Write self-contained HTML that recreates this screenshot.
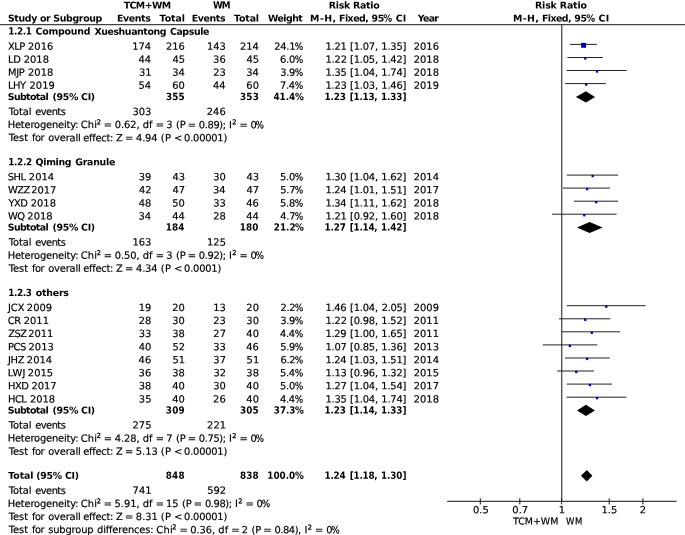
<!DOCTYPE html>
<html lang="en">
<head>
<meta charset="utf-8">
<title>Forest plot: TCM+WM versus WM, Risk Ratio</title>
<style>
html,body{margin:0;padding:0;background:#fff;}
body{width:685px;height:535px;overflow:hidden;}
svg{display:block;}
text{fill:#000;white-space:pre;}
.r{stroke:#000;stroke-width:0.18px;}
.r{font-family:"DejaVu Sans","Liberation Sans",sans-serif;font-size:9.9px;}
.b{font-family:"DejaVu Sans","Liberation Sans",sans-serif;font-weight:bold;font-size:9.4px;}
.bn{font-family:"DejaVu Sans Condensed","DejaVu Sans",sans-serif;font-weight:bold;font-size:9.8px;}
.rc{font-family:"DejaVu Sans Condensed","DejaVu Sans",sans-serif;}
.r95{font-size:9.5px;}
.rc95{font-family:"DejaVu Sans Condensed","DejaVu Sans",sans-serif;font-size:9.5px;}
.sup{font-size:6.6px;stroke:#000;stroke-width:0.3px;}
.ci{stroke:#222;stroke-width:1;}
.hl{stroke:#444;stroke-width:1.1;}
.vl{stroke:#3a3a3a;stroke-width:1.2;}
.axl{stroke:#111;stroke-width:1;}
.sq{fill:#0000c8;}
.dm{fill:#000;}
</style>
</head>
<body>
<svg width="685" height="535" viewBox="0 0 685 535">
<rect x="0" y="0" width="685" height="535" fill="#fff"/>
<g id="table-text" transform="matrix(1 0.0005 0 1 0 0)">
<text class="b" y="8.34"><tspan x="123.65" letter-spacing="-0.550">TCM+WM</tspan></text>
<text class="b" y="8.29"><tspan class="bn" x="212.94" letter-spacing="-1.000">WM</tspan></text>
<text class="b" y="8.24"><tspan x="328.74" letter-spacing="-0.263">Risk Ratio</tspan></text>
<text class="b" y="8.13"><tspan x="535.04" letter-spacing="-0.152">Risk Ratio</tspan></text>
<text class="b" y="21.50"><tspan x="7.93" letter-spacing="-0.337">Study or Subgroup</tspan></text>
<text class="b" y="21.44"><tspan x="117.04" letter-spacing="-0.379">Events</tspan></text>
<text class="b" y="21.42"><tspan x="159.55" letter-spacing="-0.061">Total</tspan></text>
<text class="b" y="21.40"><tspan x="191.74" letter-spacing="-0.379">Events</tspan></text>
<text class="b" y="21.38"><tspan x="234.05" letter-spacing="-0.161">Total</tspan></text>
<text class="b" y="21.37"><tspan x="268.02" letter-spacing="-0.550">Weight</tspan></text>
<text class="b" y="21.34"><tspan x="310.14" letter-spacing="0.410">M-H, </tspan><tspan x="339.04" letter-spacing="-0.532">Fixed, </tspan><tspan x="371.41" letter-spacing="-0.250">95</tspan><tspan class="bn" x="383.34" letter-spacing="0.100">% </tspan><tspan x="395.72" letter-spacing="0.150">CI</tspan></text>
<text class="b" y="21.29"><tspan x="417.69" letter-spacing="-0.654">Year</tspan></text>
<text class="b" y="21.24"><tspan x="513.04" letter-spacing="0.410">M-H, </tspan><tspan x="541.94" letter-spacing="-0.532">Fixed, </tspan><tspan x="574.31" letter-spacing="-0.250">95</tspan><tspan class="bn" x="586.24" letter-spacing="0.100">% </tspan><tspan x="598.62" letter-spacing="0.150">CI</tspan></text>
<text class="b" y="34.58"><tspan class="bn" x="8.21" letter-spacing="-0.352">1.2.1 </tspan><tspan x="35.63" letter-spacing="-0.228">Compound </tspan><tspan x="94.42" letter-spacing="-0.421">Xueshuantong </tspan><tspan x="169.93" letter-spacing="-0.389">Capsule</tspan></text>
<text class="r" y="49.65"><tspan x="7.91" letter-spacing="-0.500">XLP </tspan><tspan x="28.07" letter-spacing="0.000">2016</tspan></text>
<text class="r" y="49.58"><tspan x="132.26" letter-spacing="0.000">174</tspan></text>
<text class="r" y="49.57"><tspan x="165.93" letter-spacing="0.000">216</tspan></text>
<text class="r" y="49.55"><tspan x="207.00" letter-spacing="0.000">143</tspan></text>
<text class="r" y="49.53"><tspan x="239.96" letter-spacing="0.000">214</tspan></text>
<text class="r" y="49.51"><tspan x="274.37" letter-spacing="-0.300">24.1</tspan><tspan class="rc" x="294.71" letter-spacing="0.000">%</tspan></text>
<text class="r" y="49.49"><tspan x="325.51" letter-spacing="-0.214">1.21 </tspan><tspan x="350.05" letter-spacing="-0.207">[1.07, </tspan><tspan x="381.31" letter-spacing="-0.192">1.35]</tspan></text>
<text class="r" y="49.44"><tspan x="413.77" letter-spacing="0.000">2016</tspan></text>
<text class="r" y="62.71"><tspan x="7.93" letter-spacing="-0.082">LD </tspan><tspan x="23.77" letter-spacing="0.000">2018</tspan></text>
<text class="r" y="62.65"><tspan x="138.56" letter-spacing="0.000">44</tspan></text>
<text class="r" y="62.63"><tspan x="172.47" letter-spacing="0.000">45</tspan></text>
<text class="r" y="62.61"><tspan x="213.13" letter-spacing="0.000">36</tspan></text>
<text class="r" y="62.59"><tspan x="246.57" letter-spacing="0.000">45</tspan></text>
<text class="r" y="62.57"><tspan x="280.11" letter-spacing="-0.300">6.0</tspan><tspan class="rc" x="294.71" letter-spacing="0.000">%</tspan></text>
<text class="r" y="62.55"><tspan x="325.51" letter-spacing="-0.188">1.22 </tspan><tspan x="350.05" letter-spacing="-0.207">[1.05, </tspan><tspan x="381.31" letter-spacing="-0.192">1.42]</tspan></text>
<text class="r" y="62.51"><tspan x="413.77" letter-spacing="0.000">2018</tspan></text>
<text class="r" y="75.78"><tspan x="7.93" letter-spacing="-0.261">MJP </tspan><tspan x="28.07" letter-spacing="0.000">2018</tspan></text>
<text class="r" y="75.71"><tspan x="138.92" letter-spacing="0.000">31</tspan></text>
<text class="r" y="75.69"><tspan x="172.16" letter-spacing="0.000">34</tspan></text>
<text class="r" y="75.67"><tspan x="213.30" letter-spacing="0.000">23</tspan></text>
<text class="r" y="75.66"><tspan x="246.26" letter-spacing="0.000">34</tspan></text>
<text class="r" y="75.64"><tspan x="280.15" letter-spacing="-0.300">3.9</tspan><tspan class="rc" x="294.71" letter-spacing="0.000">%</tspan></text>
<text class="r" y="75.62"><tspan x="325.51" letter-spacing="-0.230">1.35 </tspan><tspan x="350.05" letter-spacing="-0.207">[1.04, </tspan><tspan x="381.31" letter-spacing="-0.192">1.74]</tspan></text>
<text class="r" y="75.57"><tspan x="413.77" letter-spacing="0.000">2018</tspan></text>
<text class="r" y="88.84"><tspan x="7.93" letter-spacing="-0.427">LHY </tspan><tspan x="29.57" letter-spacing="0.000">2019</tspan></text>
<text class="r" y="88.78"><tspan x="138.56" letter-spacing="0.000">54</tspan></text>
<text class="r" y="88.76"><tspan x="172.26" letter-spacing="0.000">60</tspan></text>
<text class="r" y="88.74"><tspan x="213.06" letter-spacing="0.000">44</tspan></text>
<text class="r" y="88.72"><tspan x="246.36" letter-spacing="0.000">60</tspan></text>
<text class="r" y="88.70"><tspan x="280.01" letter-spacing="-0.300">7.4</tspan><tspan class="rc" x="294.71" letter-spacing="0.000">%</tspan></text>
<text class="r" y="88.68"><tspan x="325.51" letter-spacing="-0.254">1.23 </tspan><tspan x="350.05" letter-spacing="-0.207">[1.03, </tspan><tspan x="381.31" letter-spacing="-0.192">1.46]</tspan></text>
<text class="r" y="88.64"><tspan x="413.77" letter-spacing="0.000">2019</tspan></text>
<text class="b" y="99.91"><tspan x="7.73" letter-spacing="-0.591">Subtotal </tspan><tspan x="52.59" letter-spacing="-0.306">(95% CI)</tspan></text>
<text class="b" y="99.83"><tspan class="bn" x="165.91" letter-spacing="0.150">355</tspan></text>
<text class="b" y="99.79"><tspan class="bn" x="240.09" letter-spacing="0.150">353</tspan></text>
<text class="b" y="99.77"><tspan class="bn" x="273.45" letter-spacing="0.000">41.4</tspan><tspan class="bn" x="294.92" letter-spacing="0.100">%</tspan></text>
<text class="b" y="99.75"><tspan class="bn" x="324.51" letter-spacing="-0.121">1.23 </tspan><tspan class="bn" x="349.74" letter-spacing="-0.236">[1.13, </tspan><tspan class="bn" x="381.01" letter-spacing="-0.084">1.33]</tspan></text>
<text class="r" y="114.97"><tspan x="8.73" letter-spacing="-0.055">Total </tspan><tspan x="35.25" letter-spacing="-0.545">events</tspan></text>
<text class="r" y="114.91"><tspan x="132.50" letter-spacing="0.000">303</tspan></text>
<text class="r" y="114.87"><tspan x="206.83" letter-spacing="0.000">246</tspan></text>
<text class="r" y="128.04"><tspan x="7.73" letter-spacing="-0.187">Heterogeneity: </tspan><tspan x="80.74" letter-spacing="0.223">Chi</tspan><tspan class="sup" x="96.70" dy="-3.8">2</tspan><tspan dy="3.8"> </tspan><tspan x="103.85" letter-spacing="-0.200">= </tspan><tspan x="114.65" letter-spacing="-0.043">0.62, </tspan><tspan x="142.65" letter-spacing="0.188">df </tspan><tspan x="155.65" letter-spacing="-0.200">= </tspan><tspan x="166.25" letter-spacing="0.000">3 </tspan><tspan x="175.95" letter-spacing="-0.043">(P </tspan><tspan x="187.75" letter-spacing="-0.200">= </tspan><tspan x="198.85" letter-spacing="-0.387">0.89); </tspan><tspan x="228.93" letter-spacing="-0.200">I</tspan><tspan class="sup" x="232.20" dy="-3.8">2</tspan><tspan dy="3.8"> </tspan><tspan x="239.45" letter-spacing="-0.200">= </tspan><tspan x="250.55" letter-spacing="0.000">0</tspan><tspan class="rc" x="255.62" letter-spacing="0.000">%</tspan></text>
<text class="r" y="141.10"><tspan x="8.73" letter-spacing="-0.063">Test </tspan><tspan x="31.97" letter-spacing="-0.443">for </tspan><tspan x="48.25" letter-spacing="-0.178">overall </tspan><tspan x="83.15" letter-spacing="-0.252">effect: </tspan><tspan x="115.96" letter-spacing="-0.200">Z </tspan><tspan x="124.95" letter-spacing="-0.200">= </tspan><tspan x="136.02" letter-spacing="-0.168">4.94 </tspan><tspan x="160.65" letter-spacing="0.450">(P </tspan><tspan x="173.95" letter-spacing="-0.200">&lt; </tspan><tspan x="184.05" letter-spacing="-0.214">0.00001)</tspan></text>
<text class="b" y="165.23"><tspan class="bn" x="8.21" letter-spacing="-0.313">1.2.2 </tspan><tspan x="35.63" letter-spacing="-0.339">Qiming </tspan><tspan x="75.23" letter-spacing="-0.242">Granule</tspan></text>
<text class="r" y="180.30"><tspan x="7.75" letter-spacing="-0.500">SHL </tspan><tspan x="28.87" letter-spacing="0.000">2014</tspan></text>
<text class="r" y="180.23"><tspan x="138.70" letter-spacing="0.000">39</tspan></text>
<text class="r" y="180.21"><tspan x="172.40" letter-spacing="0.000">43</tspan></text>
<text class="r" y="180.19"><tspan x="213.16" letter-spacing="0.000">30</tspan></text>
<text class="r" y="180.18"><tspan x="246.50" letter-spacing="0.000">43</tspan></text>
<text class="r" y="180.16"><tspan x="280.11" letter-spacing="-0.300">5.0</tspan><tspan class="rc" x="294.71" letter-spacing="0.000">%</tspan></text>
<text class="r" y="180.14"><tspan x="325.51" letter-spacing="-0.299">1.30 </tspan><tspan x="350.05" letter-spacing="-0.207">[1.04, </tspan><tspan x="381.31" letter-spacing="-0.192">1.62]</tspan></text>
<text class="r" y="180.09"><tspan x="413.77" letter-spacing="0.000">2014</tspan></text>
<text class="r" y="193.36"><tspan x="8.07" letter-spacing="-0.500">WZZ </tspan><tspan x="31.17" letter-spacing="0.000">2017</tspan></text>
<text class="r" y="193.30"><tspan x="138.99" letter-spacing="0.000">42</tspan></text>
<text class="r" y="193.28"><tspan x="172.45" letter-spacing="0.000">47</tspan></text>
<text class="r" y="193.26"><tspan x="213.06" letter-spacing="0.000">34</tspan></text>
<text class="r" y="193.24"><tspan x="246.55" letter-spacing="0.000">47</tspan></text>
<text class="r" y="193.22"><tspan x="280.30" letter-spacing="-0.300">5.7</tspan><tspan class="rc" x="294.71" letter-spacing="0.000">%</tspan></text>
<text class="r" y="193.20"><tspan x="325.51" letter-spacing="-0.333">1.24 </tspan><tspan x="350.05" letter-spacing="-0.207">[1.01, </tspan><tspan x="381.31" letter-spacing="-0.192">1.51]</tspan></text>
<text class="r" y="193.16"><tspan x="413.77" letter-spacing="0.000">2017</tspan></text>
<text class="r" y="206.43"><tspan x="8.42" letter-spacing="-0.444">YXD </tspan><tspan x="30.77" letter-spacing="0.000">2018</tspan></text>
<text class="r" y="206.36"><tspan x="138.68" letter-spacing="0.000">48</tspan></text>
<text class="r" y="206.34"><tspan x="172.26" letter-spacing="0.000">50</tspan></text>
<text class="r" y="206.32"><tspan x="213.30" letter-spacing="0.000">33</tspan></text>
<text class="r" y="206.31"><tspan x="246.33" letter-spacing="0.000">46</tspan></text>
<text class="r" y="206.29"><tspan x="280.13" letter-spacing="-0.300">5.8</tspan><tspan class="rc" x="294.71" letter-spacing="0.000">%</tspan></text>
<text class="r" y="206.27"><tspan x="325.51" letter-spacing="-0.333">1.34 </tspan><tspan x="350.05" letter-spacing="-0.207">[1.11, </tspan><tspan x="381.31" letter-spacing="-0.192">1.62]</tspan></text>
<text class="r" y="206.22"><tspan x="413.77" letter-spacing="0.000">2018</tspan></text>
<text class="r" y="219.49"><tspan x="8.07" letter-spacing="-0.500">WQ </tspan><tspan x="27.37" letter-spacing="0.000">2018</tspan></text>
<text class="r" y="219.43"><tspan x="138.56" letter-spacing="0.000">34</tspan></text>
<text class="r" y="219.41"><tspan x="172.16" letter-spacing="0.000">44</tspan></text>
<text class="r" y="219.39"><tspan x="213.18" letter-spacing="0.000">28</tspan></text>
<text class="r" y="219.37"><tspan x="246.26" letter-spacing="0.000">44</tspan></text>
<text class="r" y="219.35"><tspan x="280.30" letter-spacing="-0.300">4.7</tspan><tspan class="rc" x="294.71" letter-spacing="0.000">%</tspan></text>
<text class="r" y="219.33"><tspan x="325.51" letter-spacing="-0.214">1.21 </tspan><tspan x="350.05" letter-spacing="-0.207">[0.92, </tspan><tspan x="381.31" letter-spacing="-0.192">1.60]</tspan></text>
<text class="r" y="219.29"><tspan x="413.77" letter-spacing="0.000">2018</tspan></text>
<text class="b" y="230.56"><tspan x="7.73" letter-spacing="-0.591">Subtotal </tspan><tspan x="52.59" letter-spacing="-0.306">(95% CI)</tspan></text>
<text class="b" y="230.48"><tspan class="bn" x="165.70" letter-spacing="0.150">184</tspan></text>
<text class="b" y="230.44"><tspan class="bn" x="239.81" letter-spacing="0.150">180</tspan></text>
<text class="b" y="230.42"><tspan class="bn" x="273.81" letter-spacing="0.000">21.2</tspan><tspan class="bn" x="294.92" letter-spacing="0.100">%</tspan></text>
<text class="b" y="230.40"><tspan class="bn" x="324.51" letter-spacing="-0.121">1.27 </tspan><tspan class="bn" x="349.74" letter-spacing="-0.236">[1.14, </tspan><tspan class="bn" x="381.01" letter-spacing="-0.084">1.42]</tspan></text>
<text class="r" y="245.62"><tspan x="8.73" letter-spacing="-0.055">Total </tspan><tspan x="35.25" letter-spacing="-0.545">events</tspan></text>
<text class="r" y="245.56"><tspan x="132.50" letter-spacing="0.000">163</tspan></text>
<text class="r" y="245.52"><tspan x="207.07" letter-spacing="0.000">125</tspan></text>
<text class="r" y="258.69"><tspan x="7.73" letter-spacing="-0.187">Heterogeneity: </tspan><tspan x="80.74" letter-spacing="0.223">Chi</tspan><tspan class="sup" x="96.70" dy="-3.8">2</tspan><tspan dy="3.8"> </tspan><tspan x="103.85" letter-spacing="-0.200">= </tspan><tspan x="114.65" letter-spacing="-0.043">0.50, </tspan><tspan x="142.65" letter-spacing="0.188">df </tspan><tspan x="155.65" letter-spacing="-0.200">= </tspan><tspan x="166.25" letter-spacing="0.000">3 </tspan><tspan x="175.95" letter-spacing="-0.043">(P </tspan><tspan x="187.75" letter-spacing="-0.200">= </tspan><tspan x="198.85" letter-spacing="-0.387">0.92); </tspan><tspan x="228.93" letter-spacing="-0.200">I</tspan><tspan class="sup" x="232.20" dy="-3.8">2</tspan><tspan dy="3.8"> </tspan><tspan x="239.45" letter-spacing="-0.200">= </tspan><tspan x="250.55" letter-spacing="0.000">0</tspan><tspan class="rc" x="255.62" letter-spacing="0.000">%</tspan></text>
<text class="r" y="271.75"><tspan x="8.73" letter-spacing="-0.063">Test </tspan><tspan x="31.97" letter-spacing="-0.443">for </tspan><tspan x="48.25" letter-spacing="-0.178">overall </tspan><tspan x="83.15" letter-spacing="-0.252">effect: </tspan><tspan x="115.96" letter-spacing="-0.200">Z </tspan><tspan x="124.95" letter-spacing="-0.200">= </tspan><tspan x="136.02" letter-spacing="-0.168">4.34 </tspan><tspan x="160.65" letter-spacing="0.450">(P </tspan><tspan x="173.95" letter-spacing="-0.200">&lt; </tspan><tspan x="184.05" letter-spacing="-0.208">0.0001)</tspan></text>
<text class="b" y="295.88"><tspan class="bn" x="8.21" letter-spacing="-0.328">1.2.3 </tspan><tspan x="35.70" letter-spacing="-0.200">others</tspan></text>
<text class="r" y="310.95"><tspan x="7.91" letter-spacing="0.041">JCX </tspan><tspan x="26.87" letter-spacing="0.000">2009</tspan></text>
<text class="r" y="310.88"><tspan x="138.70" letter-spacing="0.000">19</tspan></text>
<text class="r" y="310.86"><tspan x="172.26" letter-spacing="0.000">20</tspan></text>
<text class="r" y="310.84"><tspan x="213.30" letter-spacing="0.000">13</tspan></text>
<text class="r" y="310.83"><tspan x="246.36" letter-spacing="0.000">20</tspan></text>
<text class="r" y="310.81"><tspan x="280.45" letter-spacing="-0.300">2.2</tspan><tspan class="rc" x="294.71" letter-spacing="0.000">%</tspan></text>
<text class="r" y="310.79"><tspan x="325.51" letter-spacing="-0.311">1.46 </tspan><tspan x="350.05" letter-spacing="-0.207">[1.04, </tspan><tspan x="381.67" letter-spacing="-0.282">2.05]</tspan></text>
<text class="r" y="310.74"><tspan x="413.77" letter-spacing="0.000">2009</tspan></text>
<text class="r" y="324.01"><tspan x="7.84" letter-spacing="-0.500">CR </tspan><tspan x="23.77" letter-spacing="0.000">2011</tspan></text>
<text class="r" y="323.95"><tspan x="138.68" letter-spacing="0.000">28</tspan></text>
<text class="r" y="323.93"><tspan x="172.26" letter-spacing="0.000">30</tspan></text>
<text class="r" y="323.91"><tspan x="213.30" letter-spacing="0.000">23</tspan></text>
<text class="r" y="323.89"><tspan x="246.36" letter-spacing="0.000">30</tspan></text>
<text class="r" y="323.87"><tspan x="280.15" letter-spacing="-0.300">3.9</tspan><tspan class="rc" x="294.71" letter-spacing="0.000">%</tspan></text>
<text class="r" y="323.85"><tspan x="325.51" letter-spacing="-0.188">1.22 </tspan><tspan x="350.05" letter-spacing="-0.207">[0.98, </tspan><tspan x="381.31" letter-spacing="-0.192">1.52]</tspan></text>
<text class="r" y="323.81"><tspan x="413.77" letter-spacing="0.000">2011</tspan></text>
<text class="r" y="337.08"><tspan x="8.26" letter-spacing="-0.500">ZSZ </tspan><tspan x="28.17" letter-spacing="0.000">2011</tspan></text>
<text class="r" y="337.01"><tspan x="138.80" letter-spacing="0.000">33</tspan></text>
<text class="r" y="336.99"><tspan x="172.28" letter-spacing="0.000">38</tspan></text>
<text class="r" y="336.97"><tspan x="213.35" letter-spacing="0.000">27</tspan></text>
<text class="r" y="336.96"><tspan x="246.36" letter-spacing="0.000">40</tspan></text>
<text class="r" y="336.94"><tspan x="280.01" letter-spacing="-0.300">4.4</tspan><tspan class="rc" x="294.71" letter-spacing="0.000">%</tspan></text>
<text class="r" y="336.92"><tspan x="325.51" letter-spacing="-0.286">1.29 </tspan><tspan x="350.05" letter-spacing="-0.207">[1.00, </tspan><tspan x="381.31" letter-spacing="-0.192">1.65]</tspan></text>
<text class="r" y="336.87"><tspan x="413.77" letter-spacing="0.000">2011</tspan></text>
<text class="r" y="350.14"><tspan x="8.03" letter-spacing="-0.500">PCS </tspan><tspan x="28.57" letter-spacing="0.000">2013</tspan></text>
<text class="r" y="350.08"><tspan x="138.66" letter-spacing="0.000">40</tspan></text>
<text class="r" y="350.06"><tspan x="172.59" letter-spacing="0.000">52</tspan></text>
<text class="r" y="350.04"><tspan x="213.30" letter-spacing="0.000">33</tspan></text>
<text class="r" y="350.02"><tspan x="246.33" letter-spacing="0.000">46</tspan></text>
<text class="r" y="350.00"><tspan x="280.15" letter-spacing="-0.300">5.9</tspan><tspan class="rc" x="294.71" letter-spacing="0.000">%</tspan></text>
<text class="r" y="349.98"><tspan x="325.51" letter-spacing="-0.236">1.07 </tspan><tspan x="350.05" letter-spacing="-0.207">[0.85, </tspan><tspan x="381.31" letter-spacing="-0.192">1.36]</tspan></text>
<text class="r" y="349.94"><tspan x="413.77" letter-spacing="0.000">2013</tspan></text>
<text class="r" y="363.21"><tspan x="7.91" letter-spacing="-0.307">JHZ </tspan><tspan x="26.87" letter-spacing="0.000">2014</tspan></text>
<text class="r" y="363.14"><tspan x="138.63" letter-spacing="0.000">46</tspan></text>
<text class="r" y="363.12"><tspan x="172.52" letter-spacing="0.000">51</tspan></text>
<text class="r" y="363.10"><tspan x="213.35" letter-spacing="0.000">37</tspan></text>
<text class="r" y="363.09"><tspan x="246.62" letter-spacing="0.000">51</tspan></text>
<text class="r" y="363.07"><tspan x="280.45" letter-spacing="-0.300">6.2</tspan><tspan class="rc" x="294.71" letter-spacing="0.000">%</tspan></text>
<text class="r" y="363.05"><tspan x="325.51" letter-spacing="-0.333">1.24 </tspan><tspan x="350.05" letter-spacing="-0.207">[1.03, </tspan><tspan x="381.31" letter-spacing="-0.192">1.51]</tspan></text>
<text class="r" y="363.00"><tspan x="413.77" letter-spacing="0.000">2014</tspan></text>
<text class="r" y="376.27"><tspan x="7.73" letter-spacing="0.214">LWJ </tspan><tspan x="27.87" letter-spacing="0.000">2015</tspan></text>
<text class="r" y="376.21"><tspan x="138.63" letter-spacing="0.000">36</tspan></text>
<text class="r" y="376.19"><tspan x="172.28" letter-spacing="0.000">38</tspan></text>
<text class="r" y="376.17"><tspan x="213.49" letter-spacing="0.000">32</tspan></text>
<text class="r" y="376.15"><tspan x="246.38" letter-spacing="0.000">38</tspan></text>
<text class="r" y="376.13"><tspan x="280.01" letter-spacing="-0.300">5.4</tspan><tspan class="rc" x="294.71" letter-spacing="0.000">%</tspan></text>
<text class="r" y="376.11"><tspan x="325.51" letter-spacing="-0.254">1.13 </tspan><tspan x="350.05" letter-spacing="-0.207">[0.96, </tspan><tspan x="381.31" letter-spacing="-0.192">1.32]</tspan></text>
<text class="r" y="376.07"><tspan x="413.77" letter-spacing="0.000">2015</tspan></text>
<text class="r" y="389.34"><tspan x="8.03" letter-spacing="-0.500">HXD </tspan><tspan x="31.47" letter-spacing="0.000">2017</tspan></text>
<text class="r" y="389.27"><tspan x="138.68" letter-spacing="0.000">38</tspan></text>
<text class="r" y="389.25"><tspan x="172.26" letter-spacing="0.000">40</tspan></text>
<text class="r" y="389.23"><tspan x="213.16" letter-spacing="0.000">30</tspan></text>
<text class="r" y="389.22"><tspan x="246.36" letter-spacing="0.000">40</tspan></text>
<text class="r" y="389.20"><tspan x="280.11" letter-spacing="-0.300">5.0</tspan><tspan class="rc" x="294.71" letter-spacing="0.000">%</tspan></text>
<text class="r" y="389.18"><tspan x="325.51" letter-spacing="-0.236">1.27 </tspan><tspan x="350.05" letter-spacing="-0.207">[1.04, </tspan><tspan x="381.31" letter-spacing="-0.192">1.54]</tspan></text>
<text class="r" y="389.13"><tspan x="413.77" letter-spacing="0.000">2017</tspan></text>
<text class="r" y="402.40"><tspan x="8.03" letter-spacing="-0.500">HCL </tspan><tspan x="29.97" letter-spacing="0.000">2018</tspan></text>
<text class="r" y="402.34"><tspan x="138.87" letter-spacing="0.000">35</tspan></text>
<text class="r" y="402.32"><tspan x="172.26" letter-spacing="0.000">40</tspan></text>
<text class="r" y="402.30"><tspan x="213.13" letter-spacing="0.000">26</tspan></text>
<text class="r" y="402.28"><tspan x="246.36" letter-spacing="0.000">40</tspan></text>
<text class="r" y="402.26"><tspan x="280.01" letter-spacing="-0.300">4.4</tspan><tspan class="rc" x="294.71" letter-spacing="0.000">%</tspan></text>
<text class="r" y="402.24"><tspan x="325.51" letter-spacing="-0.230">1.35 </tspan><tspan x="350.05" letter-spacing="-0.207">[1.04, </tspan><tspan x="381.31" letter-spacing="-0.192">1.74]</tspan></text>
<text class="r" y="402.20"><tspan x="413.77" letter-spacing="0.000">2018</tspan></text>
<text class="b" y="413.47"><tspan x="7.73" letter-spacing="-0.591">Subtotal </tspan><tspan x="52.59" letter-spacing="-0.306">(95% CI)</tspan></text>
<text class="b" y="413.39"><tspan class="bn" x="165.86" letter-spacing="0.150">309</tspan></text>
<text class="b" y="413.35"><tspan class="bn" x="240.01" letter-spacing="0.150">305</tspan></text>
<text class="b" y="413.33"><tspan class="bn" x="273.75" letter-spacing="0.000">37.3</tspan><tspan class="bn" x="294.92" letter-spacing="0.100">%</tspan></text>
<text class="b" y="413.31"><tspan class="bn" x="324.51" letter-spacing="-0.121">1.23 </tspan><tspan class="bn" x="349.74" letter-spacing="-0.236">[1.14, </tspan><tspan class="bn" x="381.01" letter-spacing="-0.084">1.33]</tspan></text>
<text class="r" y="428.53"><tspan x="8.73" letter-spacing="-0.055">Total </tspan><tspan x="35.25" letter-spacing="-0.545">events</tspan></text>
<text class="r" y="428.47"><tspan x="132.57" letter-spacing="0.000">275</tspan></text>
<text class="r" y="428.43"><tspan x="207.12" letter-spacing="0.000">221</tspan></text>
<text class="r" y="441.60"><tspan x="7.73" letter-spacing="-0.187">Heterogeneity: </tspan><tspan x="80.74" letter-spacing="0.223">Chi</tspan><tspan class="sup" x="96.70" dy="-3.8">2</tspan><tspan dy="3.8"> </tspan><tspan x="103.85" letter-spacing="-0.200">= </tspan><tspan x="114.82" letter-spacing="-0.085">4.28, </tspan><tspan x="142.65" letter-spacing="0.188">df </tspan><tspan x="155.65" letter-spacing="-0.200">= </tspan><tspan x="166.19" letter-spacing="0.000">7 </tspan><tspan x="175.95" letter-spacing="-0.043">(P </tspan><tspan x="187.75" letter-spacing="-0.200">= </tspan><tspan x="198.85" letter-spacing="-0.387">0.75); </tspan><tspan x="228.93" letter-spacing="-0.200">I</tspan><tspan class="sup" x="232.20" dy="-3.8">2</tspan><tspan dy="3.8"> </tspan><tspan x="239.45" letter-spacing="-0.200">= </tspan><tspan x="250.55" letter-spacing="0.000">0</tspan><tspan class="rc" x="255.62" letter-spacing="0.000">%</tspan></text>
<text class="r" y="454.66"><tspan x="8.73" letter-spacing="-0.063">Test </tspan><tspan x="31.97" letter-spacing="-0.443">for </tspan><tspan x="48.25" letter-spacing="-0.178">overall </tspan><tspan x="83.15" letter-spacing="-0.252">effect: </tspan><tspan x="115.96" letter-spacing="-0.200">Z </tspan><tspan x="124.95" letter-spacing="-0.200">= </tspan><tspan x="135.74" letter-spacing="0.005">5.13 </tspan><tspan x="160.65" letter-spacing="0.450">(P </tspan><tspan x="173.95" letter-spacing="-0.200">&lt; </tspan><tspan x="184.05" letter-spacing="-0.214">0.00001)</tspan></text>
<text class="b" y="478.79"><tspan x="8.35" letter-spacing="-0.136">Total </tspan><tspan x="36.39" letter-spacing="-0.306">(95% CI)</tspan></text>
<text class="b" y="478.71"><tspan class="bn" x="165.84" letter-spacing="0.150">848</tspan></text>
<text class="b" y="478.68"><tspan class="bn" x="239.94" letter-spacing="0.150">838</tspan></text>
<text class="b" y="478.66"><tspan class="bn" x="267.33" letter-spacing="0.000">100.0</tspan><tspan class="bn" x="294.92" letter-spacing="0.100">%</tspan></text>
<text class="b" y="478.63"><tspan class="bn" x="324.51" letter-spacing="-0.220">1.24 </tspan><tspan class="bn" x="349.74" letter-spacing="-0.236">[1.18, </tspan><tspan class="bn" x="381.01" letter-spacing="-0.084">1.30]</tspan></text>
<text class="r" y="493.86"><tspan x="8.73" letter-spacing="-0.055">Total </tspan><tspan x="35.25" letter-spacing="-0.545">events</tspan></text>
<text class="r" y="493.79"><tspan x="132.62" letter-spacing="0.000">741</tspan></text>
<text class="r" y="493.76"><tspan x="207.19" letter-spacing="0.000">592</tspan></text>
<text class="r" y="506.92"><tspan x="7.73" letter-spacing="-0.187">Heterogeneity: </tspan><tspan x="80.74" letter-spacing="0.223">Chi</tspan><tspan class="sup" x="96.70" dy="-3.8">2</tspan><tspan dy="3.8"> </tspan><tspan x="103.85" letter-spacing="-0.200">= </tspan><tspan x="114.54" letter-spacing="-0.015">5.91, </tspan><tspan x="142.65" letter-spacing="0.188">df </tspan><tspan x="155.65" letter-spacing="-0.200">= </tspan><tspan x="165.91" letter-spacing="0.000">15 </tspan><tspan x="182.00" letter-spacing="-0.043">(P </tspan><tspan x="193.80" letter-spacing="-0.200">= </tspan><tspan x="204.90" letter-spacing="-0.387">0.98); </tspan><tspan x="234.98" letter-spacing="-0.200">I</tspan><tspan class="sup" x="238.25" dy="-3.8">2</tspan><tspan dy="3.8"> </tspan><tspan x="245.50" letter-spacing="-0.200">= </tspan><tspan x="256.60" letter-spacing="0.000">0</tspan><tspan class="rc" x="261.67" letter-spacing="0.000">%</tspan></text>
<text class="r" y="519.99"><tspan x="8.73" letter-spacing="-0.063">Test </tspan><tspan x="31.97" letter-spacing="-0.443">for </tspan><tspan x="48.25" letter-spacing="-0.178">overall </tspan><tspan x="83.15" letter-spacing="-0.252">effect: </tspan><tspan x="115.96" letter-spacing="-0.200">Z </tspan><tspan x="124.95" letter-spacing="-0.200">= </tspan><tspan x="135.83" letter-spacing="0.014">8.31 </tspan><tspan x="160.65" letter-spacing="0.450">(P </tspan><tspan x="173.95" letter-spacing="-0.200">&lt; </tspan><tspan x="184.05" letter-spacing="-0.214">0.00001)</tspan></text>
<text class="r" y="533.05"><tspan x="8.73" letter-spacing="-0.063">Test </tspan><tspan x="31.97" letter-spacing="-0.443">for </tspan><tspan x="48.26" letter-spacing="-0.156">subgroup </tspan><tspan x="97.05" letter-spacing="-0.167">differences: </tspan><tspan x="156.34" letter-spacing="0.223">Chi</tspan><tspan class="sup" x="172.30" dy="-3.8">2</tspan><tspan dy="3.8"> </tspan><tspan x="179.45" letter-spacing="-0.200">= </tspan><tspan x="190.25" letter-spacing="-0.043">0.36, </tspan><tspan x="218.25" letter-spacing="0.188">df </tspan><tspan x="231.25" letter-spacing="-0.200">= </tspan><tspan x="241.87" letter-spacing="0.000">2 </tspan><tspan x="251.55" letter-spacing="-0.043">(P </tspan><tspan x="263.35" letter-spacing="-0.200">= </tspan><tspan x="274.45" letter-spacing="-0.447">0.84), </tspan><tspan x="304.53" letter-spacing="-0.200">I</tspan><tspan class="sup" x="307.80" dy="-3.8">2</tspan><tspan dy="3.8"> </tspan><tspan x="315.05" letter-spacing="-0.200">= </tspan><tspan x="326.15" letter-spacing="0.000">0</tspan><tspan class="rc" x="331.22" letter-spacing="0.000">%</tspan></text>
<text class="r" y="512.96"><tspan x="473.05" letter-spacing="0.000">0.5</tspan></text>
<text class="r" y="512.94"><tspan x="512.35" letter-spacing="0.000">0.7</tspan></text>
<text class="r" y="512.92"><tspan x="558.81" letter-spacing="0.000">1</tspan></text>
<text class="r" y="512.90"><tspan x="601.51" letter-spacing="0.000">1.5</tspan></text>
<text class="r" y="512.88"><tspan x="639.67" letter-spacing="0.000">2</tspan></text>
<text class="r" y="524.14"><tspan class="r95" x="513.03" letter-spacing="-0.045">TCM+WM</tspan></text>
<text class="r" y="524.12"><tspan class="rc95" x="566.12" letter-spacing="0.450">WM</tspan></text>
</g>
<g id="plot">
<line class="hl" x1="0" y1="24.6" x2="685" y2="24.6"/>
<line class="vl" x1="561.75" y1="24.6" x2="561.75" y2="501.3"/>
<line class="axl" x1="447.2" y1="501.3" x2="676.6" y2="501.3"/>
<line class="axl" x1="480.3" y1="498.3" x2="480.3" y2="504.4"/>
<line class="axl" x1="519.8" y1="498.3" x2="519.8" y2="504.4"/>
<line class="axl" x1="561.6" y1="498.3" x2="561.6" y2="504.4"/>
<line class="axl" x1="609.2" y1="498.3" x2="609.2" y2="504.4"/>
<line class="axl" x1="642.9" y1="498.3" x2="642.9" y2="504.4"/>
<line class="ci" x1="569.8" y1="44.4" x2="596.9" y2="44.4"/>
<rect class="sq" x="581.11" y="42.80" width="5.0" height="5.0"/>
<line class="ci" x1="567.4" y1="57.5" x2="602.8" y2="57.5"/>
<rect class="sq" x="584.07" y="57.21" width="2.3" height="2.4"/>
<line class="ci" x1="566.7" y1="70.5" x2="626.5" y2="70.5"/>
<rect class="sq" x="595.95" y="70.28" width="2.3" height="2.4"/>
<line class="ci" x1="565.1" y1="83.6" x2="605.9" y2="83.6"/>
<rect class="sq" x="585.03" y="83.34" width="2.3" height="2.4"/>
<polygon class="dm" points="575.9,96.9 585.9,91.3 595.0,96.9 585.9,102.5"/>
<line class="ci" x1="566.7" y1="175.1" x2="618.1" y2="175.1"/>
<rect class="sq" x="591.52" y="174.80" width="2.3" height="2.4"/>
<line class="ci" x1="562.9" y1="188.1" x2="610.0" y2="188.1"/>
<rect class="sq" x="585.98" y="187.87" width="2.3" height="2.4"/>
<line class="ci" x1="573.8" y1="201.2" x2="618.1" y2="201.2"/>
<rect class="sq" x="595.08" y="200.93" width="2.3" height="2.4"/>
<line class="ci" x1="552.1" y1="214.2" x2="616.6" y2="214.2"/>
<rect class="sq" x="583.11" y="214.00" width="2.3" height="2.4"/>
<polygon class="dm" points="577.0,227.5 589.6,221.9 602.7,227.5 589.6,233.1"/>
<line class="ci" x1="566.7" y1="305.7" x2="645.6" y2="305.7"/>
<rect class="sq" x="605.14" y="305.45" width="2.3" height="2.4"/>
<line class="ci" x1="559.1" y1="318.8" x2="610.4" y2="318.8"/>
<rect class="sq" x="584.07" y="318.51" width="2.3" height="2.4"/>
<line class="ci" x1="561.8" y1="331.8" x2="620.2" y2="331.8"/>
<rect class="sq" x="590.62" y="331.58" width="2.3" height="2.4"/>
<line class="ci" x1="542.7" y1="344.9" x2="597.4" y2="344.9"/>
<rect class="sq" x="568.69" y="344.64" width="2.3" height="2.4"/>
<line class="ci" x1="565.1" y1="358.0" x2="609.8" y2="358.0"/>
<rect class="sq" x="585.98" y="357.71" width="2.3" height="2.4"/>
<line class="ci" x1="557.1" y1="371.0" x2="594.0" y2="371.0"/>
<rect class="sq" x="575.09" y="370.77" width="2.3" height="2.4"/>
<line class="ci" x1="566.7" y1="384.1" x2="612.0" y2="384.1"/>
<rect class="sq" x="588.78" y="383.84" width="2.3" height="2.4"/>
<line class="ci" x1="566.7" y1="397.2" x2="626.4" y2="397.2"/>
<rect class="sq" x="595.95" y="396.90" width="2.3" height="2.4"/>
<polygon class="dm" points="577.0,410.4 585.9,404.8 595.0,410.4 585.9,416.0"/>
<polygon class="dm" points="581.0,475.7 586.8,469.9 592.4,475.7 586.8,481.5"/>
</g>
</svg>
</body>
</html>
